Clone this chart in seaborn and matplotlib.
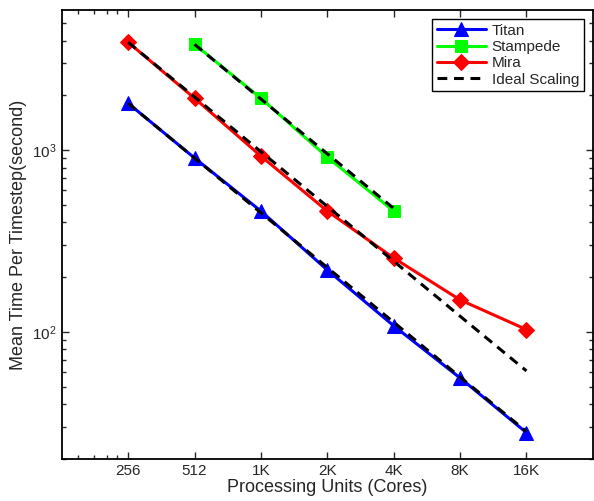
import pandas as pd
import seaborn as sns
import matplotlib.pyplot as plt
from matplotlib.ticker import FixedLocator, NullFormatter

# cores on the x axis
cores = [256, 512, 1024, 2048, 4096, 8192, 16384]
core_labels = ["256", "512", "1K", "2K", "4K", "8K", "16K"]
stampede_cores = [512, 1024, 2048, 4096]

titan = [1810, 905, 462, 219, 108, 55.8, 27.9]
stampede = [3820, 1930, 915, 462]
mira = [3920, 1930, 927, 462, 255, 150, 103]

# ideal scaling (dashed lines)
titan_ideal = [1810, 905, 452, 226, 113, 56.5, 28.3]
stampede_ideal = [3820, 1910, 955, 478]
mira_ideal = [3920, 1960, 980, 490, 245, 122, 61]

sns.set_style("ticks")
plt.rcParams['font.family'] = ['Liberation Sans', 'DejaVu Sans']
plt.rcParams['mathtext.fontset'] = 'custom'
plt.rcParams['mathtext.rm'] = 'Liberation Sans'

fig = plt.figure(figsize=(5.94, 5.01), dpi=100)
ax = fig.add_axes([0.104, 0.084, 0.894, 0.896])

lw = 2.2
sns.lineplot(x=cores, y=titan, color=(0, 0, 1), marker='^', markersize=10,
             markeredgecolor=(0, 0, 1), linewidth=lw, label='Titan', ax=ax)
sns.lineplot(x=stampede_cores, y=stampede, color=(0, 1, 0), marker='s', markersize=8,
             markeredgecolor=(0, 1, 0), linewidth=lw, label='Stampede', ax=ax)
sns.lineplot(x=cores, y=mira, color=(1, 0, 0), marker='D', markersize=8,
             markeredgecolor=(1, 0, 0), linewidth=lw, label='Mira', ax=ax)

dash = (0, (3.2, 2.2))
sns.lineplot(x=cores, y=titan_ideal, color='k', linestyle=dash, linewidth=lw,
             label='Ideal Scaling', ax=ax)
sns.lineplot(x=stampede_cores, y=stampede_ideal, color='k', linestyle=dash, linewidth=lw, ax=ax)
sns.lineplot(x=cores, y=mira_ideal, color='k', linestyle=dash, linewidth=lw, ax=ax)

ax.set_xscale('log', base=2)
ax.set_yscale('log')
ax.set_xlim(128, 32768)
ax.set_ylim(20, 5900)
ax.set_xticks(cores, core_labels)
ax.xaxis.set_minor_locator(FixedLocator([151, 179, 205, 229]))
ax.xaxis.set_minor_formatter(NullFormatter())
ax.yaxis.set_minor_formatter(NullFormatter())

ax.tick_params(which='both', direction='in', top=True, right=True, labelsize=11, width=1)
ax.tick_params(which='major', length=5)
ax.tick_params(which='minor', length=3)
for s in ax.spines.values():
    s.set_linewidth(1.3)
    s.set_color('k')

ax.set_xlabel("Processing Units (Cores)", fontsize=13, labelpad=1)
ax.set_ylabel("Mean Time Per Timestep(second)", fontsize=13, labelpad=4)

leg = ax.legend(loc='upper right', frameon=True, fancybox=False, edgecolor='k',
                framealpha=1, fontsize=11, handlelength=3.2, borderaxespad=0.6,
                labelspacing=0.15, borderpad=0.3, handletextpad=0.4)
leg.get_frame().set_linewidth(1.0)

fig.savefig("out.png", dpi=100)
